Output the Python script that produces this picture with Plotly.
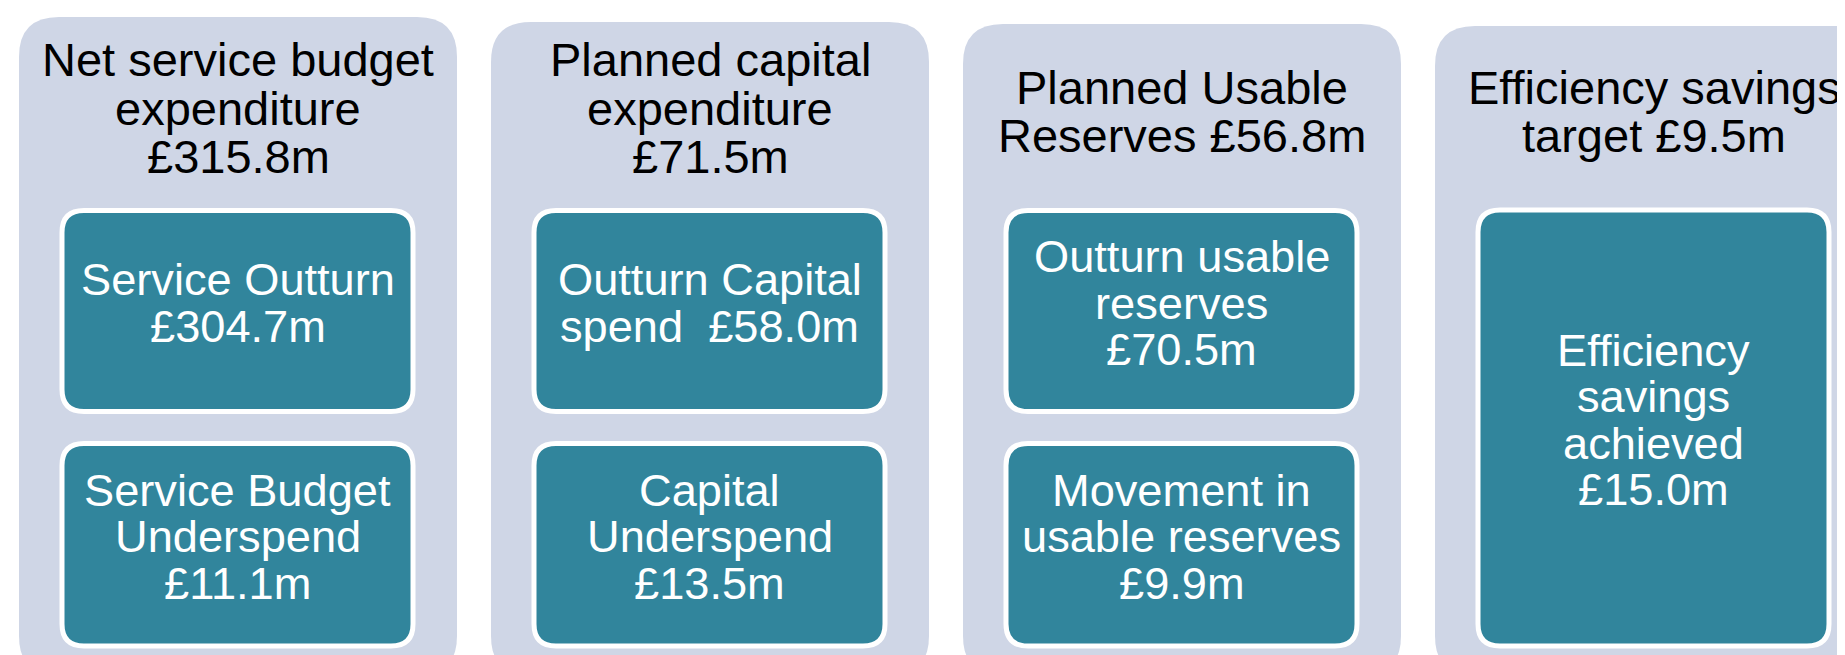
"""
Budget outturn summary panels, redrawn with Plotly shapes and annotations.
"""

import plotly.graph_objects as go

# Panel headings (line breaks marked with <br>)
panel_titles = [
    'Net service budget<br>expenditure<br>£315.8m',
    'Planned capital<br>expenditure<br>£71.5m',
    'Planned Usable<br>Reserves £56.8m',
    'Efficiency savings<br>target £9.5m',
]

# Inner boxes for each panel
panel_items = [
    ['Service Outturn<br>£304.7m', 'Service Budget<br>Underspend<br>£11.1m'],
    ['Outturn Capital<br>spend  £58.0m', 'Capital<br>Underspend<br>£13.5m'],
    ['Outturn usable<br>reserves<br>£70.5m', 'Movement in<br>usable reserves<br>£9.9m'],
    ['Efficiency<br>savings<br>achieved<br>£15.0m'],
]

W, H = 1845, 655
PANEL_COLOR = '#CFD6E6'
BOX_COLOR = '#31859C'
FONT = 'Liberation Sans, Arial, sans-serif'


def rounded_rect(x0, y0, x1, y1, r):
    """SVG path for a rounded rectangle (y axis points down)."""
    return (f'M {x0 + r},{y0} L {x1 - r},{y0} Q {x1},{y0} {x1},{y0 + r} '
            f'L {x1},{y1 - r} Q {x1},{y1} {x1 - r},{y1} '
            f'L {x0 + r},{y1} Q {x0},{y1} {x0},{y1 - r} '
            f'L {x0},{y0 + r} Q {x0},{y0} {x0 + r},{y0} Z')


def add_lines(fig, text, cx, cy, spacing, size, color):
    """Place each line of text separately to get tight line spacing."""
    lines = text.split('<br>')
    n = len(lines)
    for k, line in enumerate(lines):
        fig.add_annotation(
            x=cx, y=cy + (k - (n - 1) / 2) * spacing,
            text=line.replace('  ', '&nbsp; '),
            showarrow=False, xanchor='center', yanchor='middle',
            font=dict(family=FONT, size=size, color=color)
        )


fig = go.Figure()

panel_tops = [9, 14, 16, 18]
for i, (title, items) in enumerate(zip(panel_titles, panel_items)):
    left = 11 + 472 * i
    right = left + 438
    fig.add_shape(type='path', path=rounded_rect(left, panel_tops[i], right, 668, 40),
                  fillcolor=PANEL_COLOR, line=dict(width=0), layer='below')

    cx = left + 219
    n_title = len(title.split('<br>'))
    add_lines(fig, title, cx, 100 if n_title == 3 else 103.5, 48.5, 47, 'black')

    bx0, bx1 = left + 43, left + 394
    if len(items) == 2:
        boxes = [(202.5, 403.5), (435.5, 638)]
    else:
        boxes = [(202, 638)]
    for (by0, by1), label in zip(boxes, items):
        fig.add_shape(type='path', path=rounded_rect(bx0, by0, bx1, by1, 22),
                      fillcolor=BOX_COLOR, line=dict(color='white', width=5))
        add_lines(fig, label, (bx0 + bx1) / 2, (by0 + by1) / 2 - 8, 46.5, 45.2, 'white')

fig.update_layout(
    width=W, height=H,
    margin=dict(l=0, r=0, t=0, b=0),
    paper_bgcolor='white', plot_bgcolor='white',
    showlegend=False,
    xaxis=dict(range=[0, W], visible=False, fixedrange=True),
    yaxis=dict(range=[H, 0], visible=False, fixedrange=True),
)

fig.write_html("out.html")
